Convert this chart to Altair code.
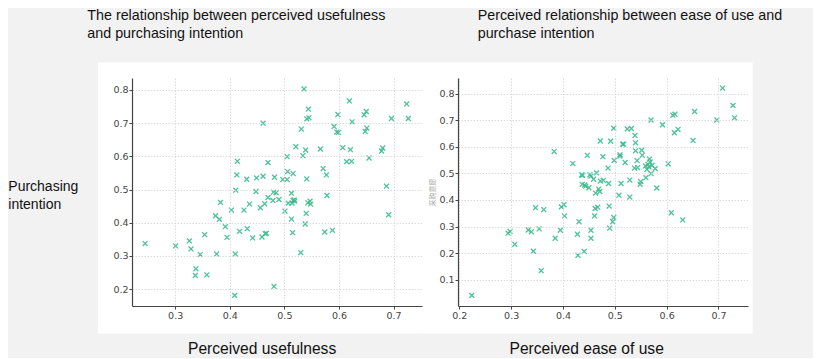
import altair as alt
import pandas as pd

# Perceived usefulness vs purchasing intention
pu_x = [0.245, 0.301, 0.326, 0.329, 0.346, 0.338, 0.337, 0.358, 0.354, 0.376,
        0.374, 0.381, 0.383, 0.392, 0.395, 0.403, 0.409, 0.410, 0.411, 0.413,
        0.414, 0.418, 0.426, 0.431, 0.432, 0.436, 0.442, 0.449, 0.448, 0.456,
        0.459, 0.461, 0.461, 0.464, 0.465, 0.467, 0.470, 0.470, 0.479, 0.480,
        0.481, 0.482, 0.485, 0.490, 0.497, 0.501, 0.505, 0.505, 0.506, 0.507,
        0.513, 0.513, 0.515, 0.516, 0.516, 0.518, 0.519, 0.521, 0.514, 0.530,
        0.531, 0.534, 0.536, 0.538, 0.539, 0.540, 0.541, 0.541, 0.544, 0.545,
        0.543, 0.547, 0.548, 0.566, 0.571, 0.574, 0.577, 0.578, 0.588, 0.591,
        0.596, 0.598, 0.599, 0.607, 0.614, 0.619, 0.621, 0.623, 0.624, 0.646,
        0.648, 0.650, 0.651, 0.655, 0.678, 0.680, 0.687, 0.691, 0.696, 0.724,
        0.727]
pu_y = [0.337, 0.330, 0.345, 0.321, 0.304, 0.261, 0.241, 0.243, 0.364, 0.306,
        0.421, 0.410, 0.461, 0.388, 0.356, 0.438, 0.181, 0.306, 0.498, 0.544,
        0.585, 0.374, 0.438, 0.531, 0.382, 0.456, 0.354, 0.535, 0.494, 0.445,
        0.357, 0.700, 0.540, 0.457, 0.367, 0.368, 0.581, 0.476, 0.467, 0.492,
        0.208, 0.537, 0.490, 0.470, 0.530, 0.435, 0.530, 0.599, 0.554, 0.459,
        0.489, 0.411, 0.370, 0.548, 0.467, 0.469, 0.465, 0.629, 0.459, 0.310,
        0.682, 0.602, 0.803, 0.396, 0.619, 0.428, 0.532, 0.713, 0.742, 0.716,
        0.460, 0.465, 0.456, 0.622, 0.563, 0.372, 0.544, 0.482, 0.377, 0.690,
        0.673, 0.726, 0.672, 0.626, 0.584, 0.767, 0.620, 0.585, 0.704, 0.725,
        0.675, 0.735, 0.685, 0.595, 0.616, 0.625, 0.510, 0.424, 0.714, 0.758,
        0.714]

# Perceived ease of use vs purchase intention
eu_x = [0.224, 0.294, 0.298, 0.307, 0.333, 0.339, 0.343, 0.347, 0.354, 0.358,
        0.363, 0.383, 0.385, 0.395, 0.397, 0.402, 0.403, 0.419, 0.428, 0.429,
        0.431, 0.436, 0.438, 0.437, 0.441, 0.442, 0.444, 0.447, 0.450, 0.452,
        0.454, 0.454, 0.454, 0.459, 0.461, 0.462, 0.463, 0.465, 0.467, 0.469,
        0.471, 0.472, 0.472, 0.478, 0.477, 0.487, 0.488, 0.489, 0.490, 0.492,
        0.496, 0.498, 0.498, 0.499, 0.508, 0.510, 0.510, 0.512, 0.515, 0.517,
        0.520, 0.524, 0.529, 0.529, 0.532, 0.538, 0.539, 0.540, 0.540, 0.543,
        0.544, 0.549, 0.550, 0.552, 0.553, 0.559, 0.560, 0.562, 0.564, 0.566,
        0.567, 0.568, 0.570, 0.570, 0.572, 0.578, 0.581, 0.592, 0.603, 0.609,
        0.612, 0.616, 0.615, 0.622, 0.631, 0.651, 0.654, 0.697, 0.708, 0.728,
        0.731]
eu_y = [0.041, 0.275, 0.282, 0.233, 0.287, 0.280, 0.207, 0.371, 0.291, 0.134,
        0.364, 0.582, 0.256, 0.286, 0.374, 0.382, 0.340, 0.537, 0.271, 0.192,
        0.318, 0.494, 0.493, 0.459, 0.206, 0.456, 0.452, 0.568, 0.446, 0.495,
        0.490, 0.286, 0.256, 0.478, 0.340, 0.368, 0.426, 0.502, 0.373, 0.441,
        0.432, 0.622, 0.471, 0.474, 0.563, 0.520, 0.462, 0.377, 0.294, 0.621,
        0.318, 0.670, 0.334, 0.549, 0.418, 0.570, 0.565, 0.462, 0.610, 0.610,
        0.541, 0.667, 0.475, 0.411, 0.669, 0.520, 0.643, 0.615, 0.585, 0.548,
        0.522, 0.459, 0.469, 0.587, 0.568, 0.528, 0.484, 0.515, 0.534, 0.524,
        0.554, 0.543, 0.701, 0.499, 0.530, 0.518, 0.445, 0.683, 0.536, 0.352,
        0.719, 0.723, 0.653, 0.666, 0.325, 0.624, 0.733, 0.701, 0.821, 0.756,
        0.709]

left_title = ["The relationship between perceived usefulness", "and purchasing intention"]
right_title = ["Perceived relationship between ease of use and", "purchase intention"]
left_xlabel = "Perceived usefulness"
right_xlabel = "Perceived ease of use"
ylabel = ["Purchasing", "intention"]
right_ytitle = "采购意愿"

W, H = 290, 228
one = pd.DataFrame({"k": [0]})
X_SHAPE = "M-1,-1L1,1M-1,1L1,-1"
COLOR = "#3dbc8e"
TXT_FONT = "Liberation Sans"
AX = dict(zindex=1, labelFont="DejaVu Sans", labelFontSize=9.5,
          labelColor="#444444", domainColor="#444444", domainWidth=1.2,
          tickColor="#444444", tickSize=3, tickWidth=1, labelPadding=1,
          gridColor="#d4d4d4", gridDash=[1.5, 1.5], gridWidth=0.8, format=".1f")


def panel(xs, ys, xdom, ydom, xticks, yticks, ytitle, title_lines, title_x,
          xlabel, xlabel_x, box_x, box_x2, extra=None):
    df = pd.DataFrame({"x": xs, "y": ys})
    bg = alt.Chart(one).mark_rect(color="white").encode(
        x=alt.value(box_x), x2=alt.value(box_x2),
        y=alt.value(-15.6), y2=alt.value(H + 27.4))
    if ytitle:
        yaxis = alt.Axis(values=yticks, title=ytitle,
                         titleFont="Noto Sans CJK SC", titleFontSize=7,
                         titleColor="#aaaaaa", titleFontWeight="normal",
                         titlePadding=3, **AX)
    else:
        yaxis = alt.Axis(values=yticks, title=None, **AX)
    pts = alt.Chart(df).mark_point(
        shape=X_SHAPE, filled=False, size=24, strokeWidth=1.3,
        color=COLOR, opacity=0.9).encode(
        x=alt.X("x:Q", scale=alt.Scale(domain=xdom, nice=False, zero=False),
                axis=alt.Axis(values=xticks, title=None, **AX)),
        y=alt.Y("y:Q", scale=alt.Scale(domain=ydom, nice=False, zero=False),
                axis=yaxis))
    title = alt.Chart(one).mark_text(
        text=title_lines, align="left", baseline="top", font=TXT_FONT,
        fontSize=14.3, lineHeight=18, color="#111111").encode(
        x=alt.value(title_x), y=alt.value(-69.3))
    xl = alt.Chart(one).mark_text(
        text=xlabel, align="center", baseline="middle", font=TXT_FONT,
        fontSize=15.6, color="#111111").encode(
        x=alt.value(xlabel_x), y=alt.value(270.5))
    layers = [bg, pts, title, xl]
    if extra is not None:
        layers.append(extra)
    return alt.layer(*layers).properties(width=W, height=H)


ylab = alt.Chart(one).mark_text(
    text=ylabel, align="left", baseline="top", font=TXT_FONT,
    fontSize=14, lineHeight=18, color="#111111").encode(
    x=alt.value(-123.7), y=alt.value(101.7))

left = panel(pu_x, pu_y, [0.221, 0.752], [0.149, 0.836],
             [0.3, 0.4, 0.5, 0.6, 0.7], [0.2, 0.3, 0.4, 0.5, 0.6, 0.7, 0.8],
             None, left_title, -44.7, left_xlabel, 130.1, -34, 291.3, extra=ylab)
right = panel(eu_x, eu_y, [0.1975, 0.757], [0.001, 0.859],
              [0.2, 0.3, 0.4, 0.5, 0.6, 0.7], [0.1, 0.2, 0.3, 0.4, 0.5, 0.6, 0.7, 0.8],
              right_ytitle, right_title, 19.7, right_xlabel, 128.7, -35, 294.7)

chart = alt.hconcat(left, right, spacing=36, bounds="flush").configure(
    background="#f2f2f2",
    padding={"left": 0, "top": 0, "right": 30, "bottom": 0},
).configure_view(stroke=None)

chart.save("out.html", embed_options={"renderer": "svg", "actions": False})
